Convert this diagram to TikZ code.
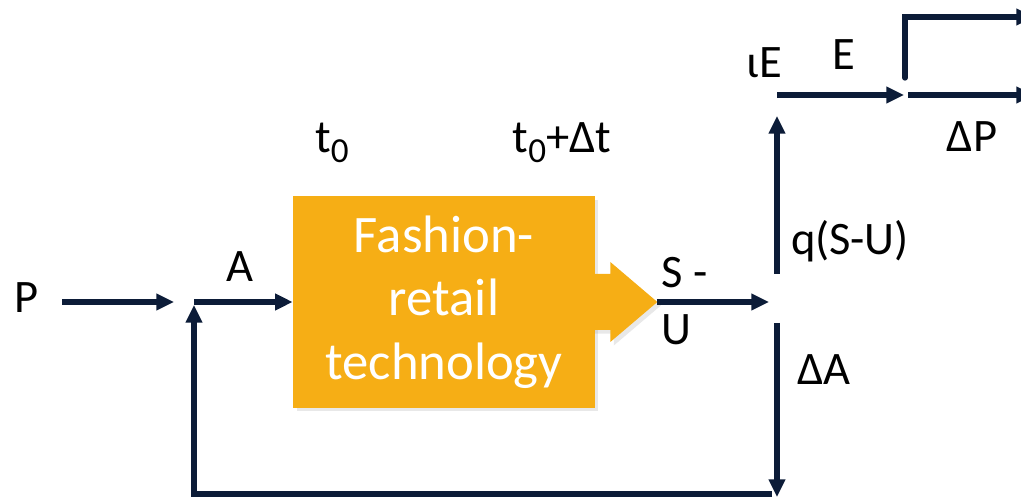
\documentclass[tikz,border=0pt]{standalone}
\usepackage{fontspec}
\setmainfont{Carlito}
\usetikzlibrary{arrows.meta,calc,shadows}
\definecolor{navy}{HTML}{0C1C38}
\definecolor{amber}{HTML}{F6AE15}
\newcommand{\tsub}[1]{\raisebox{-5.5pt}{\fontsize{20}{20}\selectfont #1}}
\begin{document}
\begin{tikzpicture}[
            x=0.02cm, y=-0.02cm,
            flow/.style={draw=navy, line width=3pt, -{Triangle[length=10pt, width=9pt]}},
            every node/.style={font=\fontsize{26.5}{30}\selectfont}
        ]
        
        % Define styles for nodes
        \tikzset{
            block/.style={rectangle, fill=amber, text=white, inner sep=0pt, minimum width=6.04cm, minimum height=4.24cm, align=center, font=\fontsize{30}{36}\selectfont, drop shadow={opacity=0.18, shadow xshift=2pt, shadow yshift=-2pt}},
            lbl/.style={anchor=base, inner sep=0pt}
        }
        
        \useasboundingbox (0,0) rectangle (1021,499);
        
        % Main block with its output arrow
        \node[block] (tech) at (444,302) {Fashion-\\retail\\technology};
        \fill[amber, drop shadow={opacity=0.18, shadow xshift=2pt, shadow yshift=-2pt}]
            ($(tech.east)+(-4,-28)$) -- ++(19,0) -- ++(0,-12) -- ++(47,40) coordinate (tip)
            -- ++(-47,40) -- ++(0,-12) -- ++(-19,0) -- cycle;
        
        % Labels
        \node[lbl] (P) at (27,313) {P};
        \node[lbl] (A) at (240,282) {A};
        \node[lbl] (t0) at (332,153) {t\tsub{0}};
        \node[lbl] (t1) at (562,153) {t\tsub{0}+Δt};
        \node[lbl] (S) at (685,288) {S -};
        \node[lbl] (U) at (676,345) {U};
        \node[lbl] (q) at (850,255) {q(S-U)};
        \node[lbl] (dA) at (824,385) {ΔA};
        \node[lbl] (iE) at (764,78) {ιE};
        \node[lbl] (E) at (844,70) {E};
        \node[lbl] (dP) at (972,152) {ΔP};
        
        % Connector ends
        \coordinate (pStart) at (62,302);
        \coordinate (pEnd) at (174,302);
        \coordinate (jA) at (194,302);
        \coordinate (su) at (769,302);
        \coordinate (qStart) at (777,274);
        \coordinate (qEnd) at (777,116);
        \coordinate (aStart) at (777,323);
        \coordinate (aEnd) at (777,497);
        \coordinate (fb) at (772,494);
        \coordinate (eStart) at (777,95);
        \coordinate (eEnd) at (904,95);
        \coordinate (up) at (905,78);
        \coordinate (outTop) at (1034,17);
        \coordinate (outLow) at (1034,95);
        
        % Connectors
        \draw[flow] (pStart) -- (pEnd);
        \draw[flow] (jA) -- (jA -| tech.west);
        \draw[flow] (tip) -- (su);
        \draw[flow] (qStart) -- (qEnd);
        \draw[flow] (aStart) -- (aEnd);
        \draw[flow] (fb) -| ($(jA)+(0,3)$);
        \draw[flow] (eStart) -- (eEnd);
        \draw[flow, line cap=round] (up) |- (outTop);
        \draw[flow] ($(eEnd)+(4,0)$) -- (outLow);
        
        \end{tikzpicture}
\end{document}
